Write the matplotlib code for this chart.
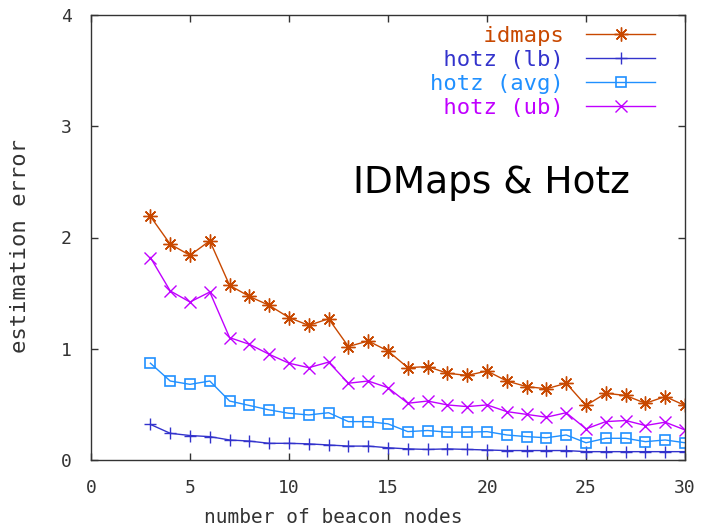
import numpy as np
import matplotlib
matplotlib.use('Agg')
import matplotlib.pyplot as plt

# beacon node counts and estimation errors
nodes = list(range(3, 31))
idmaps = [2.19, 1.94, 1.84, 1.97, 1.57, 1.47, 1.39, 1.28, 1.21, 1.27, 1.02, 1.07, 0.98, 0.83,
          0.84, 0.78, 0.76, 0.80, 0.71, 0.66, 0.64, 0.69, 0.49, 0.60, 0.58, 0.51, 0.57, 0.49]
hotz_lb = [0.32, 0.24, 0.22, 0.21, 0.18, 0.17, 0.15, 0.15, 0.145, 0.135, 0.125, 0.125, 0.11, 0.10,
           0.095, 0.10, 0.095, 0.09, 0.085, 0.085, 0.085, 0.085, 0.075, 0.075, 0.075, 0.075, 0.075, 0.075]
hotz_avg = [0.87, 0.71, 0.68, 0.71, 0.53, 0.49, 0.45, 0.42, 0.405, 0.425, 0.345, 0.345, 0.325, 0.255,
            0.265, 0.25, 0.25, 0.255, 0.225, 0.21, 0.20, 0.225, 0.155, 0.195, 0.195, 0.165, 0.18, 0.155]
hotz_ub = [1.82, 1.52, 1.42, 1.51, 1.10, 1.04, 0.95, 0.87, 0.83, 0.88, 0.69, 0.71, 0.65, 0.51,
           0.53, 0.495, 0.48, 0.495, 0.435, 0.41, 0.385, 0.425, 0.28, 0.345, 0.355, 0.31, 0.34, 0.27]

labels = ['idmaps', 'hotz (lb)', 'hotz (avg)', 'hotz (ub)']
mono = 'DejaVu Sans Mono'
txt = '#333333'

fig = plt.figure(figsize=(7.04, 5.32), dpi=100)
ax = fig.add_axes([91 / 704, 72 / 532, 594 / 704, 445 / 532])

# right-align legend labels by padding (monospace font)
w = max(len(s) for s in labels)
ax.plot(nodes, idmaps, color='#c84800', lw=1.0, marker=(8, 2, 0), ms=10, mew=1.0,
        label=labels[0].rjust(w))
ax.plot(nodes, hotz_lb, color='#3333cc', lw=1.0, marker='+', ms=9, mew=1.0,
        label=labels[1].rjust(w))
ax.plot(nodes, hotz_avg, color='#2090ff', lw=1.0, marker='s', ms=7, mew=1.2, mfc='none',
        label=labels[2].rjust(w))
ax.plot(nodes, hotz_ub, color='#c000ff', lw=1.0, marker='x', ms=8, mew=1.0,
        label=labels[3].rjust(w))

ax.set_xlim(0, 30)
ax.set_ylim(0, 4)
ax.set_xticks(range(0, 31, 5))
ax.set_yticks(range(0, 5))
ax.tick_params(direction='in', top=True, right=True, length=5, width=1, color='#333333',
               labelsize=13, pad=14, labelcolor=txt)
for lab in ax.get_xticklabels() + ax.get_yticklabels():
    lab.set_family(mono)
for sp in ax.spines.values():
    sp.set_color('#333333')
    sp.set_linewidth(1)

ax.set_xlabel('number of beacon nodes', family=mono, fontsize=14, color=txt)
ax.set_ylabel('estimation error', family=mono, fontsize=16, color=txt)
ax.xaxis.set_label_coords(0.407, -0.108)
ax.yaxis.set_label_coords(-0.103, 0.481)

leg = ax.legend(loc='upper right', bbox_to_anchor=(0.95, 0.976), frameon=False,
                markerfirst=False, labelcolor='linecolor', handlelength=3.1,
                handletextpad=1.03, labelspacing=0.185, borderpad=0, borderaxespad=0,
                prop={'family': mono, 'size': 16})

ax.text(0.441, 0.6, 'IDMaps & Hotz', transform=ax.transAxes, fontsize=27,
        family='DejaVu Sans', color='black')

fig.savefig('out.png', dpi=100)
